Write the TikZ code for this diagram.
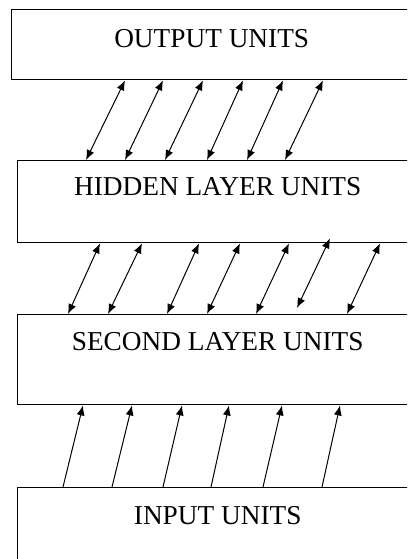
\documentclass[tikz,border=0pt]{standalone}
\usepackage{fontspec}
\setmainfont{Liberation Serif}
\usetikzlibrary{arrows.meta}

\tikzset{
  layer/.style={draw, line width=1.4pt, rectangle, anchor=north west,
    minimum width=400pt, inner xsep=0pt, inner ysep=0pt,
    font=\fontsize{27.3}{30}\selectfont},
  link/.style={line width=1pt, {Latex[length=10pt,width=8pt]}-{Latex[length=10pt,width=8pt]}},
  feed/.style={line width=1pt, -{Latex[length=10pt,width=8pt]}}
}

\begin{document}
\begin{tikzpicture}[x=1pt, y=-1pt]
  \clip (0,0) rectangle (407,559);
  % Define nodes
  \node[layer, text height=38pt, text depth=32pt] (out) at (11,9) {OUTPUT UNITS};
  \node[layer, text height=35pt, text depth=47pt] (hid) at (17,160) {HIDDEN LAYER UNITS};
  \node[layer, text height=36pt, text depth=54pt] (sec) at (17,314) {SECOND LAYER UNITS};
  \node[layer, text height=37pt, text depth=60pt] (inp) at (17,487) {INPUT UNITS};

  % Connect the nodes
  \draw[link] ([xshift=114pt]out.south west) -- ([xshift=69pt]hid.north west);
  \draw[link] ([xshift=152pt]out.south west) -- ([xshift=108pt]hid.north west);
  \draw[link] ([xshift=192pt]out.south west) -- ([xshift=148pt]hid.north west);
  \draw[link] ([xshift=232pt]out.south west) -- ([xshift=190pt]hid.north west);
  \draw[link] ([xshift=272pt]out.south west) -- ([xshift=230pt]hid.north west);
  \draw[link] ([xshift=312pt]out.south west) -- ([xshift=268pt]hid.north west);

  \draw[link] ([xshift=83pt]hid.south west) -- ([xshift=51pt]sec.north west);
  \draw[link] ([xshift=125pt]hid.south west) -- ([xshift=91pt]sec.north west);
  \draw[link] ([xshift=182pt]hid.south west) -- ([xshift=150pt]sec.north west);
  \draw[link] ([xshift=223pt]hid.south west) -- ([xshift=190pt]sec.north west);
  \draw[link] ([xshift=272pt]hid.south west) -- ([xshift=239pt]sec.north west);
  \draw[link] ([xshift=313pt,yshift=5pt]hid.south west) -- ([xshift=280pt,yshift=6pt]sec.north west);
  \draw[link] ([xshift=363pt]hid.south west) -- ([xshift=330pt]sec.north west);

  \draw[feed] ([xshift=46pt]inp.north west) -- ([xshift=66pt]sec.south west);
  \draw[feed] ([xshift=95pt]inp.north west) -- ([xshift=115pt]sec.south west);
  \draw[feed] ([xshift=146pt]inp.north west) -- ([xshift=165pt]sec.south west);
  \draw[feed] ([xshift=194pt]inp.north west) -- ([xshift=212pt]sec.south west);
  \draw[feed] ([xshift=246pt]inp.north west) -- ([xshift=265pt]sec.south west);
  \draw[feed] ([xshift=305pt]inp.north west) -- ([xshift=323pt]sec.south west);
\end{tikzpicture}
\end{document}
